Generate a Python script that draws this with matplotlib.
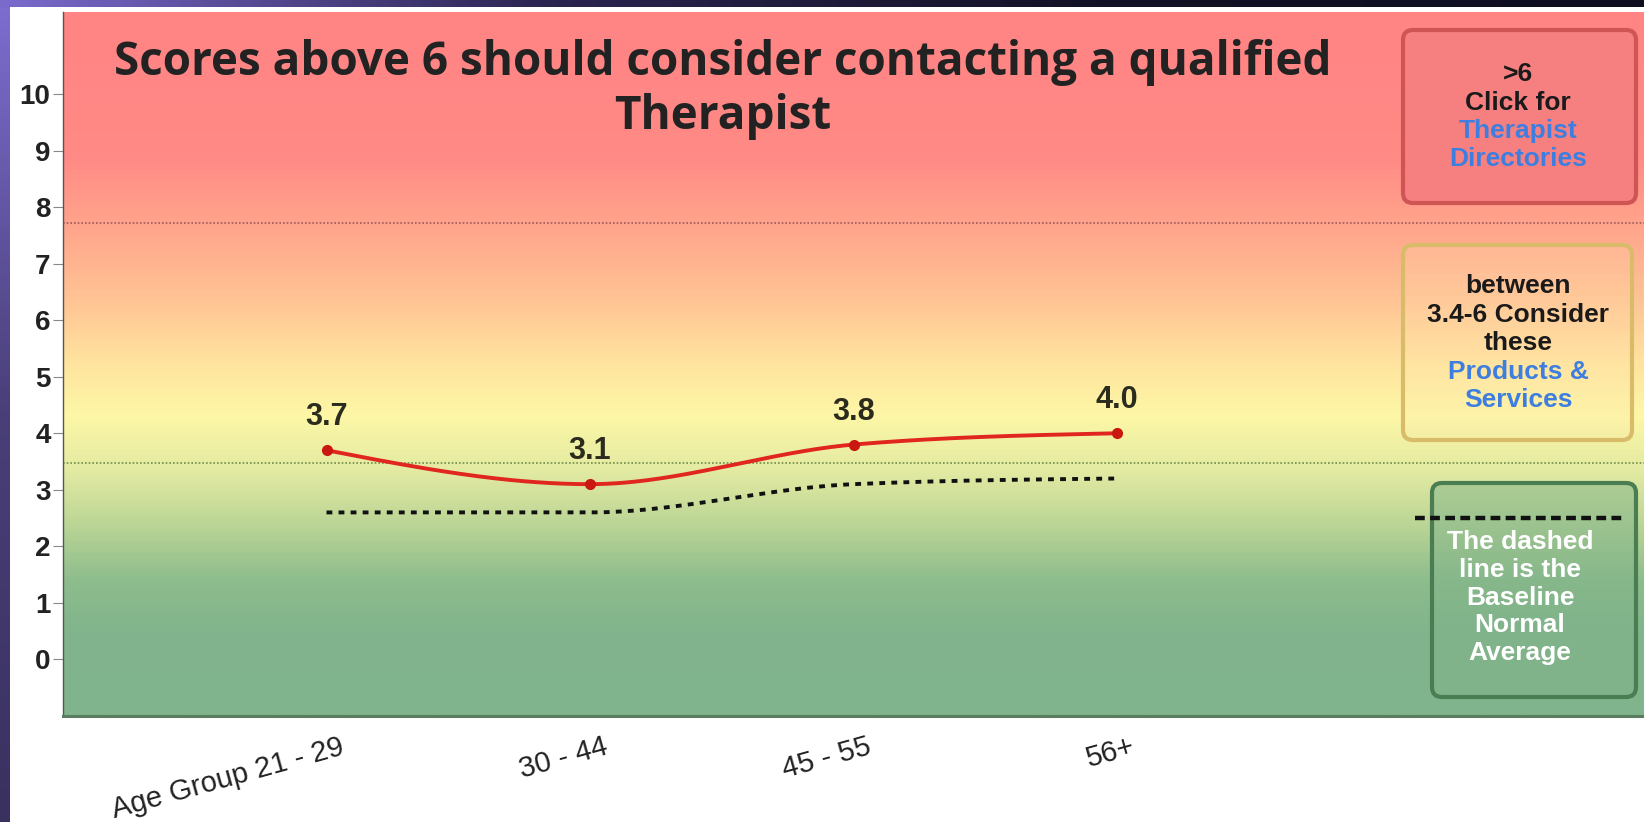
import numpy as np
import matplotlib
matplotlib.use("Agg")
import matplotlib.pyplot as plt
from matplotlib.colors import LinearSegmentedColormap
from matplotlib.patches import FancyBboxPatch
import matplotlib.transforms as mtransforms

# data
age_groups = ["Age Group 21 - 29", "30 - 44", "45 - 55", "56+"]
scores = [3.7, 3.1, 3.8, 4.0]
baseline = [2.6, 2.6, 3.1, 3.2]
upper_limit = 7.72
lower_limit = 3.47

W, H = 1644, 822


def monotone_curve(xs, ys, n=60):
    # monotone cubic (like d3 curveMonotoneX) just for drawing the smooth line
    xs = np.asarray(xs, float)
    ys = np.asarray(ys, float)
    h = np.diff(xs)
    s = np.diff(ys) / h
    m = np.zeros(len(xs))
    for i in range(1, len(xs) - 1):
        p = (s[i - 1] * h[i] + s[i] * h[i - 1]) / (h[i - 1] + h[i])
        m[i] = (np.sign(s[i - 1]) + np.sign(s[i])) * min(abs(s[i - 1]), abs(s[i]), 0.5 * abs(p))
    m[0] = (3 * s[0] - m[1]) / 2
    m[-1] = (3 * s[-1] - m[-2]) / 2
    out_x, out_y = [], []
    for i in range(len(xs) - 1):
        t = np.linspace(0, 1, n)
        h00 = 2 * t**3 - 3 * t**2 + 1
        h10 = t**3 - 2 * t**2 + t
        h01 = -2 * t**3 + 3 * t**2
        h11 = t**3 - t**2
        out_x.append(xs[i] + t * h[i])
        out_y.append(h00 * ys[i] + h10 * h[i] * m[i] + h01 * ys[i + 1] + h11 * h[i] * m[i + 1])
    return np.concatenate(out_x), np.concatenate(out_y)


fig = plt.figure(figsize=(W / 100, H / 100), dpi=100, facecolor="white")
ax = fig.add_axes([63 / W, 1 - 716 / H, 1 - 63 / W, (716 - 12) / H])

ymin, ymax = -1, 11.45
ax.set_xlim(-1, 5)
ax.set_ylim(ymin, ymax)

# vertical colour gradient behind the plot
stops = [(-1.0, (128, 180, 140)), (0.5, (130, 181, 140)), (1.4, (142, 189, 141)),
         (2.4, (188, 214, 150)), (3.3, (226, 234, 162)), (4.3, (253, 247, 166)),
         (5.3, (255, 226, 158)), (6.4, (255, 195, 148)), (7.6, (255, 166, 140)),
         (8.9, (255, 138, 134)), (11.45, (255, 132, 132))]
cmap = LinearSegmentedColormap.from_list(
    "zones", [((v - ymin) / (ymax - ymin), tuple(c / 255 for c in col)) for v, col in stops])
grad = np.linspace(ymin, ymax, 600).reshape(-1, 1)
ax.imshow(grad, cmap=cmap, aspect="auto", origin="lower",
          extent=[-1, 5, ymin, ymax], vmin=ymin, vmax=ymax, zorder=0)

ax.axhline(upper_limit, color="#a05a5a", lw=1.2, ls=(0, (1, 1.2)), zorder=1)
ax.axhline(lower_limit, color="#6f8f4a", lw=1.2, ls=(0, (1, 1.2)), zorder=1)

x = np.arange(len(age_groups))

bx, by = monotone_curve(x, baseline)
ax.plot(bx, by, color="#111111", lw=2.8, ls=(0, (1.5, 1.6)), zorder=3)

sx, sy = monotone_curve(x, scores)
ax.plot(sx, sy, color="#e0261e", lw=2.8, zorder=4, solid_capstyle="round")
ax.plot(x, scores, "o", color="#c81810", ms=7, zorder=5)

for xi, v in zip(x, scores):
    ax.annotate(f"{v:.1f}", (xi, v), xytext=(0, 33), textcoords="offset pixels",
                ha="center", va="center", fontsize=22, fontweight="bold",
                color="#2b2b1e", family="Liberation Sans", zorder=6)

# axes styling
ax.set_yticks(range(0, 11))
ax.tick_params(axis="y", length=7, width=0.8, color="#888888", pad=2,
               labelsize=20, labelcolor="#222222")
for lab in ax.get_yticklabels():
    lab.set_fontweight("bold")
    lab.set_family("Liberation Sans")

ax.set_xticks(x)
ax.set_xticklabels(age_groups, rotation=15.5, ha="right", va="top",
                   rotation_mode="anchor", fontsize=21, family="Liberation Sans",
                   color="#222222")
ax.tick_params(axis="x", length=0, pad=12)
offset = mtransforms.ScaledTranslation(13 / 100, 0, fig.dpi_scale_trans)
for lab in ax.get_xticklabels():
    lab.set_transform(lab.get_transform() + offset)

for side in ["top", "right"]:
    ax.spines[side].set_visible(False)
ax.spines["left"].set_color("#555555")
ax.spines["left"].set_linewidth(1.0)
ax.spines["bottom"].set_color("#5b7d5f")
ax.spines["bottom"].set_linewidth(2.2)

# title
title_font = dict(ha="center", va="center", fontsize=33, fontweight="bold",
                  color="#222222", family="Open Sans")
fig.text(723 / W, 1 - 62 / H, "Scores above 6 should consider contacting a qualified", **title_font)
fig.text(723 / W, 1 - 117 / H, "Therapist", **title_font)


# right side boxes (pixel positions from top-left)
def box(x0, y0, x1, y1, face, edge):
    p = FancyBboxPatch((x0 / W, 1 - y1 / H), (x1 - x0) / W, (y1 - y0) / H,
                       boxstyle="round,pad=0,rounding_size=0.006", mutation_aspect=2,
                       transform=fig.transFigure, facecolor=face, edgecolor=edge,
                       lw=3, zorder=5)
    fig.add_artist(p)


def box_lines(xc, y_first, lines, step=28.5):
    for i, (txt, col) in enumerate(lines):
        fig.text(xc / W, 1 - (y_first + i * step) / H, txt, ha="center", va="center",
                 fontsize=19, fontweight="bold", color=col, family="Liberation Sans",
                 zorder=6)


blue = "#3d7ee0"
box(1403, 30, 1636, 203, "#f68080", "#cf5454")
box_lines(1518, 74, [(">6", "#1a1a1a"), ("Click for", "#1a1a1a"),
                     ("Therapist", blue), ("Directories", blue)])

box(1403, 245, 1632, 440, (1, 0.9, 0.7, 0.18), "#d9bc6a")
box_lines(1518, 286, [("between", "#1a1a1a"), ("3.4-6 Consider", "#1a1a1a"),
                      ("these", "#1a1a1a"), ("Products &", blue), ("Services", blue)])

box(1432, 483, 1636, 697, (0.5, 0.70, 0.54, 0.5), "#4b7d52")
fig.add_artist(plt.Line2D([1415 / W, 1623 / W], [1 - 518 / H, 1 - 518 / H],
                          transform=fig.transFigure, color="#111111", lw=3.2,
                          ls=(0, (2.2, 1.2)), zorder=6))
box_lines(1520, 542, [("The dashed", "white"), ("line is the", "white"),
                      ("Baseline", "white"), ("Normal", "white"), ("Average", "white")],
          step=27.8)

# purple frame strips at left and top
left = fig.add_axes([0, 0, 9 / W, 1])
left.imshow(np.linspace(0, 1, 200).reshape(-1, 1), aspect="auto",
            cmap=LinearSegmentedColormap.from_list("l", ["#3a3160", "#4a3f78", "#7d6dd0"]),
            origin="lower")
left.axis("off")
top = fig.add_axes([0, 1 - 7 / H, 1, 7 / H])
top.imshow(np.linspace(0, 1, 400).reshape(1, -1), aspect="auto",
           cmap=LinearSegmentedColormap.from_list("t", ["#7a6acc", "#2a2450", "#121226", "#0e0e20"]))
top.axis("off")

fig.savefig("out.png", dpi=100, facecolor="white")
